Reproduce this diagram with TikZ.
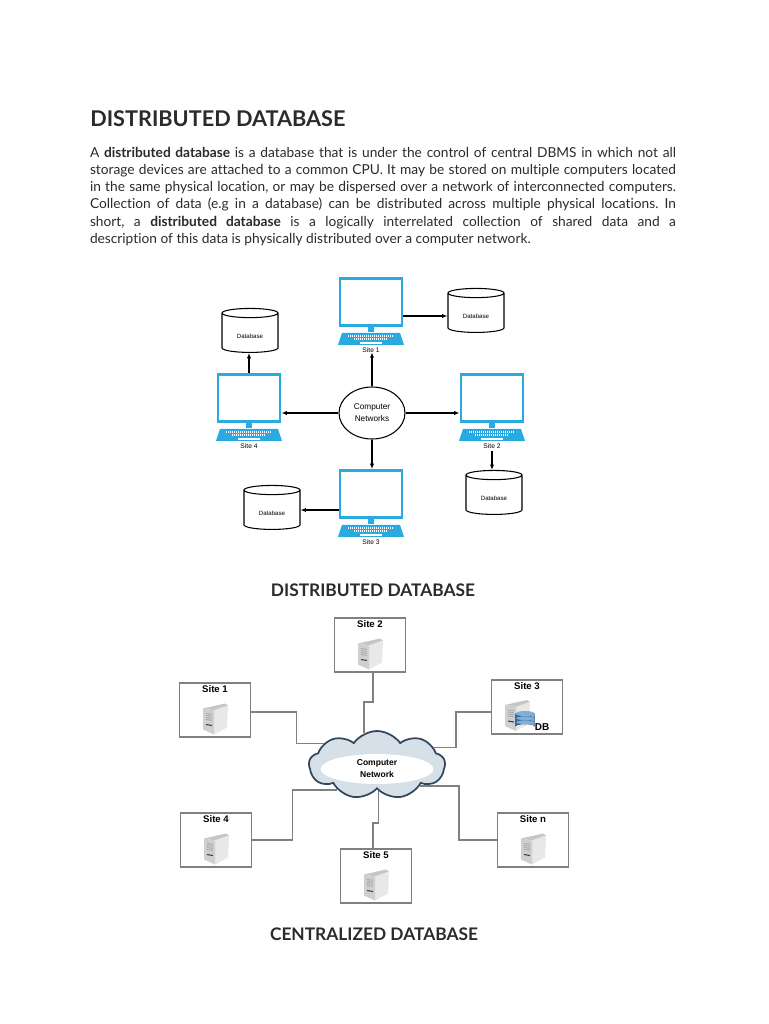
\documentclass[tikz,border=0pt]{standalone}
\usepackage{fontspec}
\setmainfont{Lato}[Ligatures=NoCommon]
\newfontfamily\labelfont{Liberation Sans}
\usepackage{xcolor}
\usetikzlibrary{arrows.meta,positioning,shapes.geometric,shapes.symbols}
\definecolor{lapblue}{HTML}{29ABE2}
\definecolor{inkgrey}{HTML}{2B2B2B}
\definecolor{wiregrey}{HTML}{808080}
\definecolor{cloudedge}{HTML}{33465A}
\definecolor{cloudfill}{HTML}{D5E0E8}
\definecolor{dbdark}{HTML}{2E6BA8}
\definecolor{dblight}{HTML}{7FB0DC}
\def\px{0.75pt}
\newcommand{\dbname}{\raisebox{-4pt}[0pt][0pt]{Database}}
\tikzset{
  laptop/.pic={
    \fill[lapblue] (-3,0) rectangle (3,5);
    \fill[lapblue] (-29,6) -- (29,6) -- (33,18) -- (-33,18) -- cycle;
    \draw[white,line width=1.1pt,dash pattern=on 1pt off 0.5pt] (-23,9) -- (23,9);
    \draw[white,line width=1.1pt,dash pattern=on 1pt off 0.5pt] (-17,12) -- (17,12);
    \fill[white] (-11,15) rectangle (11,17);
  },
  server/.pic={
    \fill[gray!45] (-12,-10) -- (10,-15) -- (13,-13) -- (-1,-8) -- cycle;
    \fill[gray!18] (-1,-8) -- (13,-13) -- (12,9) -- (-1,16) -- cycle;
    \fill[gray!38] (-12,-10) -- (-1,-8) -- (-1,16) -- (-12,11) -- cycle;
    \foreach \s in {-5,-3,-1,1}
      \draw[gray!70,line width=0.6pt] (-9,\s) -- (-3,\s+0.8);
    \draw[black!75,line width=0.8pt] (-9,6) -- (-3,7);
  },
  dbstack/.pic={
    \foreach \s in {4,0,-4} {
      \fill[left color=dbdark,right color=dblight] (-9.5,\s-2.5) -- (-9.5,\s+2.5) arc[start angle=180,end angle=360,x radius=9.5,y radius=2.5] -- (9.5,\s-2.5) -- cycle;
      \fill[dblight] (0,\s-2.5) ellipse[x radius=9.5,y radius=2.5];
    }
  }
}
\begin{document}
\begin{tikzpicture}[x=\px,y=-\px,>={Latex[length=4pt,width=3.2pt]}]
  \tikzstyle{monitor}=[draw=lapblue,fill=white,line width=2.2pt,minimum width=62*\px,minimum height=47*\px]
  \tikzstyle{sitelabel}=[font=\labelfont\fontsize{5}{6}\selectfont,inner sep=0pt]
  \tikzstyle{database}=[draw,thick,fill=white,cylinder,shape border rotate=90,shape aspect=0.35,minimum width=56*\px,minimum height=44*\px,inner sep=0pt,font=\labelfont\fontsize{4.6}{6}\selectfont]
  \tikzstyle{sitebox}=[draw=wiregrey,fill=white,line width=1.2pt,minimum width=71*\px,minimum height=54*\px]
  \tikzstyle{boxlabel}=[font=\labelfont\bfseries\fontsize{7.2}{8}\selectfont,inner sep=0pt]
  \tikzstyle{wire}=[draw=wiregrey,line width=1.2pt]
  \tikzstyle{caption}=[font=\bfseries\fontsize{13}{16}\selectfont,text=inkgrey,inner sep=0pt]
  \useasboundingbox[fill=white] (0,0) rectangle (768,1024);

  % text of the page
  \node[font=\bfseries\fontsize{16.25}{20}\selectfont,text=inkgrey,inner sep=0pt,anchor=west] (title) at (90,119) {DISTRIBUTED DATABASE};
  \node[anchor=north,inner sep=0pt,text width=586*\px,align=justify,text=inkgrey,font=\fontsize{10.3}{12.85}\selectfont] (intro) at (383,147) {\frenchspacing A \textbf{distributed database} is a database that is under the control of central DBMS in which not all\linebreak storage devices are attached to a common CPU. It may be stored on multiple computers located\linebreak in the same physical location, or may be dispersed over a network of interconnected computers.\linebreak Collection of data (e.g in a database) can be distributed across multiple physical locations. In\linebreak short, a \textbf{distributed database} is a logically interrelated collection of shared data and a\linebreak description of this data is physically distributed over a computer network.};
  \node[caption] (captop) at (373,590) {DISTRIBUTED DATABASE};
  \node[caption] (capbot) at (374,934) {CENTRALIZED DATABASE};

  % upper picture
  \node[draw,thick,ellipse,minimum width=66*\px,minimum height=52*\px,inner sep=0pt,align=center,font=\labelfont\fontsize{6.2}{9}\selectfont] (net) at (372,413) {Computer\\Networks};
  \foreach \n/\x/\y/\t in {mone/371/302/1,mtwo/492/398/2,mthree/371/494/3,mfour/249/398/4} {
    \node[monitor] (\n) at (\x,\y) {};
    \pic at (\n.south) {laptop};
    \node[sitelabel,below=20*\px of \n] (lab\n) {Site \t};
  }
  \node[database] (dbone) at (476,313) {\dbname};
  \node[database] (dbtwo) at (494,495) {\dbname};
  \node[database] (dbthree) at (272,510) {\dbname};
  \node[database] (dbfour) at (250,333) {\dbname};
  \draw[->,thick] (net) -- (mfour.east |- net);
  \draw[->,thick] (net) -- (mtwo.west |- net);
  \draw[->,thick] (net) -- (net |- mthree.north);
  \draw[->,thick] (net) -- (net |- labmone.south);
  \draw[->,thick] (mfour.north) -- (mfour.north |- dbfour.south);
  \draw[->,thick] ([yshift=-3*\px]labmtwo.south) -- (labmtwo.south |- dbtwo.north);
  \draw[->,thick] (mthree.west |- dbthree) -- (dbthree);
  \draw[->,thick] ([yshift=-3*\px]mone.east |- dbone.west) -- ([yshift=-3*\px]dbone.west);

  % lower picture
  \node[cloud,cloud puffs=9,cloud puff arc=110,aspect=2,draw=cloudedge,line width=1.3pt,fill=cloudfill,minimum width=136*\px,minimum height=68*\px,inner sep=0pt] (cloud) at (377,765) {};
  \node[ellipse,fill=white,minimum width=113*\px,minimum height=30*\px,inner sep=0pt,align=center,font=\labelfont\bfseries\fontsize{6.4}{9}\selectfont] (cloudtext) at (377,769) {Computer\\Network};
  \foreach \n/\x/\y/\t in {sone/215/710/1,stwo/370/645/2,sthree/527/707/3,sfour/216/840/4,sfive/376/876/5,sn/533/840/n} {
    \node[sitebox] (\n) at (\x,\y) {};
    \node[boxlabel,below=3*\px of \n.north] (lab\n) {Site \t};
  }
  \foreach \n in {sone,stwo,sfour,sfive,sn}
    \pic at ([yshift=-8.5*\px]\n.center) {server};
  \pic at ([xshift=-10*\px,yshift=-8*\px]sthree.center) {server};
  \pic at ([xshift=-2*\px,yshift=-13*\px]sthree.center) {dbstack};
  \node[boxlabel,font=\labelfont\bfseries\fontsize{7.5}{8}\selectfont] (dblab) at (542,727) {DB};
  \draw[wire] ([yshift=-2*\px]sone.east) -- ++(45,0) |- (cloud.158);
  \draw[wire] ([xshift=3*\px]stwo.south) -- ++(0,29) -| (cloud.112);
  \draw[wire] ([yshift=-5*\px]sthree.west) -- ++(-35,0) |- (cloud.17);
  \draw[wire] (sfour.east) -- ++(40,0) |- (cloud.212);
  \draw[wire] ([xshift=-3*\px]sfive.north) -- ++(0,-25) -| (cloud.273);
  \draw[wire] (sn.west) -- ++(-38,0) |- (cloud.334);
\end{tikzpicture}
\end{document}
